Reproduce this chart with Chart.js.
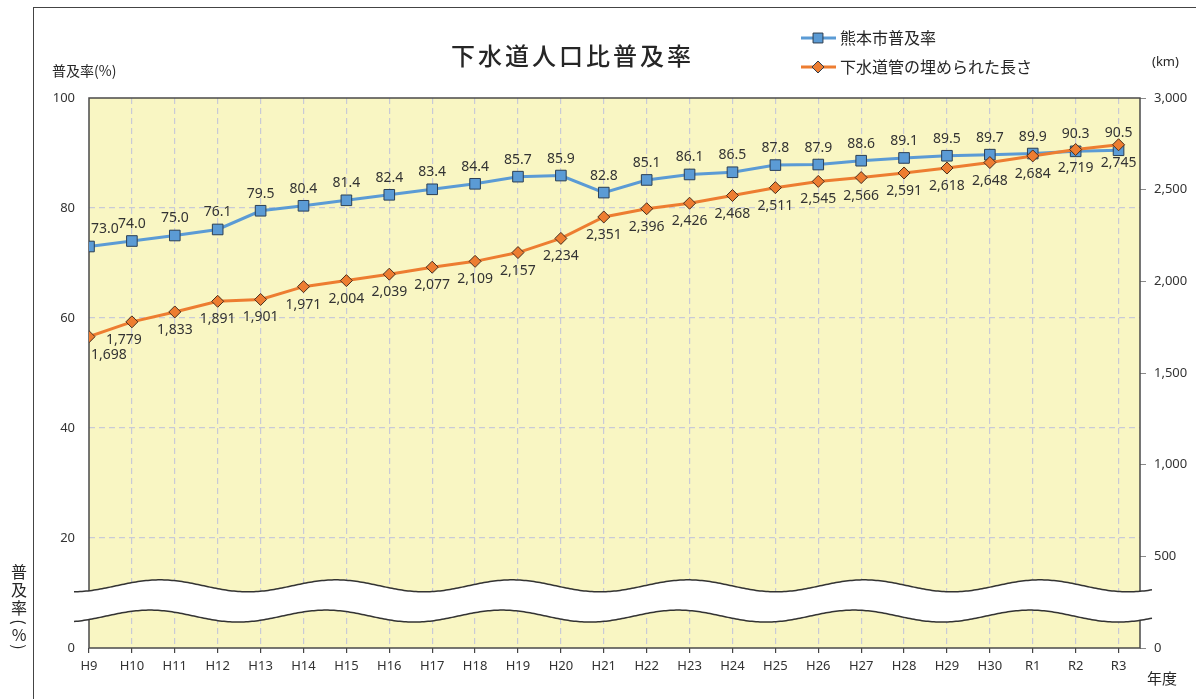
<!DOCTYPE html>
<html>
<head>
<meta charset="utf-8">
<script src="https://cdn.jsdelivr.net/npm/chart.js@4"></script>
<style>
  html, body { margin: 0; padding: 0; background: #fff; }
  #wrap { position: relative; width: 1201px; height: 699px; overflow: hidden; }
  #frame { position: absolute; left: 33px; top: 7px; width: 1162px; height: 720px;
           border-left: 1.5px solid #444; border-top: 1.5px solid #444; }
  canvas { position: absolute; left: 0; top: 0; }
</style>
</head>
<body>
<div id="wrap">
  <div id="frame"></div>
  <canvas id="chart" width="1201" height="699"></canvas>
</div>
<script>
const years = ["H9","H10","H11","H12","H13","H14","H15","H16","H17","H18","H19","H20",
  "H21","H22","H23","H24","H25","H26","H27","H28","H29","H30","R1","R2","R3"];
const rateValues = [73.0,74.0,75.0,76.1,79.5,80.4,81.4,82.4,83.4,84.4,85.7,85.9,
  82.8,85.1,86.1,86.5,87.8,87.9,88.6,89.1,89.5,89.7,89.9,90.3,90.5];
const pipeValues = [1698,1779,1833,1891,1901,1971,2004,2039,2077,2109,2157,2234,
  2351,2396,2426,2468,2511,2545,2566,2591,2618,2648,2684,2719,2745];
const rateTicks = [0,20,40,60,80,100];
const pipeTicks = [0,500,1000,1500,2000,2500,3000];

const FONT = '"Noto Sans", "Noto Sans CJK JP", sans-serif';
const JFONT = '"Noto Sans CJK JP", sans-serif';
const BLUE = "#5b9bd5";
const ORANGE = "#ed7d31";
const GRID = "#c9cad6";

// yellow plot background + dark frame
const plotArea = {
  id: "plotArea",
  beforeDraw(chart) {
    const a = chart.chartArea, ctx = chart.ctx;
    ctx.save();
    ctx.fillStyle = "#f9f6c3";
    ctx.fillRect(a.left, a.top, a.right - a.left, a.bottom - a.top);
    ctx.restore();
  },
  beforeDatasetsDraw(chart) {
    const a = chart.chartArea, ctx = chart.ctx;
    ctx.save();
    ctx.strokeStyle = "#4a4a4a";
    ctx.lineWidth = 1.5;
    ctx.strokeRect(a.left, a.top, a.right - a.left, a.bottom - a.top);

    // axis break (white wavy band)
    const y = chart.scales.y;
    const top = y.getPixelForValue(11.3), bot = y.getPixelForValue(5.8);
    const x0 = a.left - 15, x1 = a.right + 12;
    const per = 176, amp = 6, crest = a.left + 71;
    const wave = (x, c, shift) => c - amp * Math.cos(2 * Math.PI * (x - crest + shift) / per);
    ctx.beginPath();
    for (let x = x0; x <= x1; x += 2) ctx.lineTo(x, wave(x, top, 0));
    for (let x = x1; x >= x0; x -= 2) ctx.lineTo(x, wave(x, bot, 10));
    ctx.closePath();
    ctx.fillStyle = "#fff";
    ctx.fill();
    ctx.strokeStyle = "#333";
    ctx.lineWidth = 1.5;
    ctx.beginPath();
    for (let x = x0; x <= x1; x += 2) ctx.lineTo(x, wave(x, top, 0));
    ctx.stroke();
    ctx.beginPath();
    for (let x = x0; x <= x1; x += 2) ctx.lineTo(x, wave(x, bot, 10));
    ctx.stroke();
    ctx.restore();
  }
};

// value labels: rate above, pipe length below
const valueLabels = {
  id: "valueLabels",
  afterDatasetsDraw(chart) {
    const ctx = chart.ctx;
    ctx.save();
    ctx.font = "14px " + FONT;
    ctx.fillStyle = "#333";
    ctx.textBaseline = "middle";
    chart.data.datasets.forEach((ds, di) => {
      const meta = chart.getDatasetMeta(di);
      meta.data.forEach((pt, i) => {
        const v = ds.data[i].y;
        const text = ds.yAxisID === "y" ? v.toFixed(1) : v.toLocaleString("en-US");
        const dy = ds.yAxisID === "y" ? -17 : 18;
        let x = pt.x;
        ctx.textAlign = "center";
        if (i === 0) { ctx.textAlign = "left"; x += 2; }
        if (i === 1 && ds.yAxisID === "y1") x -= 8;
        ctx.fillText(text, x, pt.y + dy);
      });
    });
    ctx.restore();
  }
};

// title, legend and axis captions
const captions = {
  id: "captions",
  afterDraw(chart) {
    const ctx = chart.ctx;
    ctx.save();
    ctx.fillStyle = "#262626";
    ctx.textBaseline = "middle";
    ctx.textAlign = "center";

    ctx.font = "500 24px " + JFONT;
    const title = "下水道人口比普及率";
    [...title].forEach((ch, i) => ctx.fillText(ch, 463 + i * 27, 56));

    ctx.font = "16px " + JFONT;
    ctx.textAlign = "left";
    const legend = [
      { label: "熊本市普及率", color: BLUE, style: "rect", y: 38 },
      { label: "下水道管の埋められた長さ", color: ORANGE, style: "rectRot", y: 67 }
    ];
    legend.forEach(l => {
      ctx.strokeStyle = l.color;
      ctx.lineWidth = 3;
      ctx.beginPath();
      ctx.moveTo(801, l.y); ctx.lineTo(836, l.y);
      ctx.stroke();
      ctx.fillStyle = l.color;
      ctx.strokeStyle = "#2e3d4d";
      ctx.lineWidth = 1;
      Chart.helpers.drawPoint(ctx, { pointStyle: l.style, radius: l.style === "rect" ? 7 : 6, rotation: 0, borderWidth: 1 }, 818, l.y);
      ctx.fillStyle = "#262626";
      ctx.fillText(l.label, 840, l.y);
    });

    ctx.font = "14px " + JFONT;
    ctx.fillText("普及率(%)", 52, 71);
    ctx.font = "13px " + FONT;
    ctx.fillText("(km)", 1152, 62);
    ctx.font = "15px " + JFONT;
    ctx.fillText("年度", 1147, 678);

    // vertical caption, parentheses turned sideways
    ctx.font = "16px " + JFONT;
    ctx.textAlign = "center";
    ctx.fillText("普", 19, 572);
    ctx.fillText("及", 19, 590);
    ctx.fillText("率", 19, 608);
    ctx.fillText("%", 19, 635);
    [["(", 622], [")", 647]].forEach(([ch, yy]) => {
      ctx.save();
      ctx.translate(19, yy);
      ctx.rotate(Math.PI / 2);
      ctx.fillText(ch, 0, 0);
      ctx.restore();
    });
    ctx.restore();
  }
};

new Chart(document.getElementById("chart").getContext("2d"), {
  type: "line",
  data: {
    datasets: [
      {
        label: "熊本市普及率",
        data: rateValues.map((v, i) => ({ x: i, y: v })),
        yAxisID: "y",
        order: 1,
        borderColor: BLUE,
        borderWidth: 3,
        backgroundColor: BLUE,
        pointStyle: "rect",
        pointRadius: 7.5,
        pointBorderColor: "#2b3f55",
        pointBorderWidth: 1,
        tension: 0
      },
      {
        label: "下水道管の埋められた長さ",
        data: pipeValues.map((v, i) => ({ x: i, y: v })),
        yAxisID: "y1",
        order: 0,
        borderColor: ORANGE,
        borderWidth: 3,
        backgroundColor: ORANGE,
        pointStyle: "rectRot",
        pointRadius: 6,
        pointBorderColor: "#4a2e1c",
        pointBorderWidth: 1,
        tension: 0
      }
    ]
  },
  options: {
    responsive: false,
    animation: false,
    layout: { padding: { top: 98, left: 0, right: 0, bottom: 0 } },
    plugins: { legend: { display: false }, tooltip: { enabled: false } },
    scales: {
      x: {
        type: "linear",
        min: 0,
        max: 24.5,
        afterBuildTicks: s => { s.ticks = years.map((c, i) => ({ value: i })); },
        afterFit: s => { s.height = 51; },
        ticks: {
          callback: v => years[v],
          autoSkip: false,
          maxRotation: 0,
          padding: 5,
          color: "#333",
          font: { size: 13, family: FONT }
        },
        grid: {
          color: c => c.tick && c.tick.value === 0 ? "rgba(0,0,0,0)" : GRID,
          lineWidth: 1.2,
          tickLength: 5,
          tickColor: "#444",
          tickBorderDash: []
        },
        border: { display: false, dash: [6, 4] }
      },
      y: {
        position: "left",
        min: 0,
        max: 100,
        afterBuildTicks: s => { s.ticks = rateTicks.map(v => ({ value: v })); },
        afterFit: s => { s.width = 89; },
        ticks: { padding: 14, color: "#333", font: { size: 13, family: FONT } },
        grid: {
          color: c => (c.tick.value === 0 || c.tick.value === 100) ? "rgba(0,0,0,0)" : GRID,
          lineWidth: 1.2,
          drawTicks: false
        },
        border: { display: false, dash: [6, 4] }
      },
      y1: {
        position: "right",
        min: 0,
        max: 3000,
        afterBuildTicks: s => { s.ticks = pipeTicks.map(v => ({ value: v })); },
        afterFit: s => { s.width = 61; },
        ticks: {
          callback: v => v.toLocaleString("en-US"),
          padding: 8,
          color: "#333",
          font: { size: 13, family: FONT }
        },
        grid: { drawOnChartArea: false, tickLength: 6, tickColor: "#8a8a8a" },
        border: { display: false }
      }
    }
  },
  plugins: [plotArea, valueLabels, captions]
});
</script>
</body>
</html>
